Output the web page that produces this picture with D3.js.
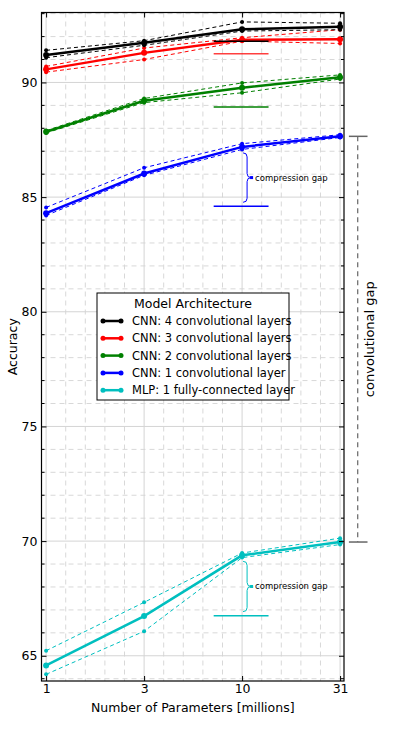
<!DOCTYPE html>
<html>
<head>
<meta charset="utf-8">
<script src="https://cdn.jsdelivr.net/npm/d3@7"></script>
<style>
  body { margin: 0; background: #fff; }
  svg { font-family: "DejaVu Sans", sans-serif; }
</style>
</head>
<body>
<div id="root"></div>
<script>
// data
const paramLabels = ["1", "3", "10", "31"];

const cnn4Mean  = [91.20, 91.73, 92.32, 92.43];
const cnn4Upper = [91.40, 91.82, 92.64, 92.58];
const cnn4Lower = [91.08, 91.62, 92.24, 92.30];

const cnn3Mean  = [90.57, 91.29, 91.86, 91.88];
const cnn3Upper = [90.70, 91.50, 91.95, 92.30];
const cnn3Lower = [90.45, 91.00, 91.80, 91.70];

const cnn2Mean  = [87.85, 89.20, 89.77, 90.23];
const cnn2Upper = [87.90, 89.30, 89.98, 90.33];
const cnn2Lower = [87.80, 89.12, 89.55, 90.15];

const cnn1Mean  = [84.30, 86.03, 87.19, 87.65];
const cnn1Upper = [84.55, 86.28, 87.33, 87.72];
const cnn1Lower = [84.20, 85.95, 87.08, 87.60];

const mlpMean  = [64.58, 66.73, 69.38, 69.96];
const mlpUpper = [65.22, 67.33, 69.48, 70.13];
const mlpLower = [64.19, 66.07, 69.28, 69.85];

const seriesNames = [
  "CNN: 4 convolutional layers",
  "CNN: 3 convolutional layers",
  "CNN: 2 convolutional layers",
  "CNN: 1 convolutional layer",
  "MLP: 1 fully-connected layer"
];
const seriesColors = ["#000000", "#ff0000", "#008000", "#0000ff", "#00bfbf"];
// compressed model accuracy at 10M params
const compressedAcc = [91.80, 91.25, 88.93, 84.60, 66.75];
const yTicks = [65, 70, 75, 80, 85, 90];

let series = [
  { mean: cnn4Mean, upper: cnn4Upper, lower: cnn4Lower },
  { mean: cnn3Mean, upper: cnn3Upper, lower: cnn3Lower },
  { mean: cnn2Mean, upper: cnn2Upper, lower: cnn2Lower },
  { mean: cnn1Mean, upper: cnn1Upper, lower: cnn1Lower },
  { mean: mlpMean, upper: mlpUpper, lower: mlpLower }
].map((s, i) => Object.assign(s, { name: seriesNames[i], color: seriesColors[i], comp: compressedAcc[i] }));

let width = 394, height = 732,
    margin = { top: 12.5, right: 50, bottom: 51, left: 41.5 };

let svg = d3.select('#root').append('svg')
    .attr('width', width)
    .attr('height', height);

let x = d3.scaleLinear().domain([-0.047, 3.04]).range([margin.left, width - margin.right]);
let y = d3.scaleLinear().domain([63.9, 93.05]).range([height - margin.bottom, margin.top]);

let plot = svg.append('g');

// grid: minor dashed, major solid
let xMinor = d3.range(0, 3.001, 0.2).filter(v => Math.abs(v - Math.round(v)) > 0.01);
plot.selectAll('.xminor').data(xMinor).enter().append('line')
    .attr('x1', d => x(d)).attr('x2', d => x(d))
    .attr('y1', y.range()[1]).attr('y2', y.range()[0])
    .attr('stroke', '#d8d8d8').attr('stroke-dasharray', '5,4');
let yMinor = d3.range(64, 94).filter(v => v % 5 !== 0);
plot.selectAll('.yminor').data(yMinor).enter().append('line')
    .attr('x1', x.range()[0]).attr('x2', x.range()[1])
    .attr('y1', d => y(d)).attr('y2', d => y(d))
    .attr('stroke', '#d8d8d8').attr('stroke-dasharray', '5,4');
plot.selectAll('.xmajor').data(d3.range(4)).enter().append('line')
    .attr('x1', d => x(d)).attr('x2', d => x(d))
    .attr('y1', y.range()[1]).attr('y2', y.range()[0])
    .attr('stroke', '#d4d4d4');
plot.selectAll('.ymajor').data(yTicks).enter().append('line')
    .attr('x1', x.range()[0]).attr('x2', x.range()[1])
    .attr('y1', d => y(d)).attr('y2', d => y(d))
    .attr('stroke', '#d4d4d4');

// axes with inward ticks
let yAxisL = d3.axisLeft(y).tickValues(yTicks).tickSize(-5).tickPadding(4);
let yAxisR = d3.axisRight(y).tickValues(yTicks).tickSize(-5).tickFormat('');
let xAxisB = d3.axisBottom(x).tickValues(d3.range(4)).tickFormat(i => paramLabels[i]).tickSize(-5).tickPadding(3);
let xAxisT = d3.axisTop(x).tickValues(d3.range(4)).tickFormat('').tickSize(-5);

function styleAxis(g) {
  g.select('.domain').remove();
  g.selectAll('text').attr('font-size', 12.5).attr('fill', '#000').attr('font-family', '"DejaVu Sans", sans-serif');
  g.selectAll('line').attr('stroke', '#000');
}
svg.append('g').attr('transform', `translate(${x.range()[0]},0)`).call(yAxisL).call(styleAxis);
svg.append('g').attr('transform', `translate(${x.range()[1]},0)`).call(yAxisR).call(styleAxis);
svg.append('g').attr('transform', `translate(0,${y.range()[0]})`).call(xAxisB).call(styleAxis);
svg.append('g').attr('transform', `translate(0,${y.range()[1]})`).call(xAxisT).call(styleAxis);

// minor y ticks
[x.range()[0], x.range()[1]].forEach((px, k) => {
  svg.append('g').selectAll('line').data(yMinor).enter().append('line')
      .attr('x1', px).attr('x2', k === 0 ? px + 3 : px - 3)
      .attr('y1', d => y(d)).attr('y2', d => y(d))
      .attr('stroke', '#000');
});

// series lines
let line = d3.line().x((d, i) => x(i)).y(d => y(d));

series.slice().reverse().forEach(s => {
  let g = plot.append('g');
  [s.upper, s.lower].forEach(band => {
    g.append('path').attr('d', line(band))
        .attr('fill', 'none').attr('stroke', s.color)
        .attr('stroke-width', 1).attr('stroke-dasharray', '4,3');
    g.selectAll(null).data(band).enter().append('circle')
        .attr('cx', (d, i) => x(i)).attr('cy', d => y(d)).attr('r', 2)
        .attr('fill', s.color);
  });
  g.append('path').attr('d', line(s.mean))
      .attr('fill', 'none').attr('stroke', s.color).attr('stroke-width', 2.5);
  g.selectAll(null).data(s.mean).enter().append('circle')
      .attr('cx', (d, i) => x(i)).attr('cy', d => y(d)).attr('r', 3)
      .attr('fill', s.color);
  // compressed model level
  g.append('line')
      .attr('x1', x(2 - 0.29)).attr('x2', x(2 + 0.27))
      .attr('y1', y(s.comp)).attr('y2', y(s.comp))
      .attr('stroke', s.color).attr('stroke-width', 1.5).attr('opacity', s.color === '#ff0000' ? 0.75 : 1);
});

// compression gap braces for CNN 1 layer and MLP
function brace(y0, y1, x0, color) {
  let w = 4, r = 4, ym = (y0 + y1) / 2;
  let p = `M${x0},${y0} Q${x0 + w},${y0} ${x0 + w},${y0 + r} L${x0 + w},${ym - r} Q${x0 + w},${ym} ${x0 + 2 * w},${ym} ` +
          `Q${x0 + w},${ym} ${x0 + w},${ym + r} L${x0 + w},${y1 - r} Q${x0 + w},${y1} ${x0},${y1}`;
  plot.append('path').attr('d', p).attr('fill', 'none').attr('stroke', color).attr('stroke-width', 1);
  plot.append('rect').attr('x', x0 + 2 * w - 1).attr('y', ym - 1.5).attr('width', 3).attr('height', 3).attr('fill', color);
  plot.append('text').attr('x', x0 + 2 * w + 4).attr('y', ym + 3)
      .attr('font-size', 8.5).attr('fill', '#000').text('compression gap');
}
[3, 4].forEach(k => {
  let s = series[k];
  brace(y(s.mean[2]) + 6, y(s.comp) - 4, x(2) + 1, s.color);
});

// convolutional gap marker
let gx = x(3.18), gTop = y(cnn1Mean[3]), gBot = y(mlpMean[3]);
svg.append('line').attr('x1', gx).attr('x2', gx).attr('y1', gTop).attr('y2', gBot)
    .attr('stroke', '#666').attr('stroke-width', 1.2).attr('stroke-dasharray', '5,4');
[gTop, gBot].forEach(py => {
  svg.append('line').attr('x1', x(3.09)).attr('x2', x(3.28)).attr('y1', py).attr('y2', py)
      .attr('stroke', '#666').attr('stroke-width', 1.5);
});
svg.append('text')
    .attr('transform', `translate(${gx + 16},${(gTop + gBot) / 2}) rotate(-90)`)
    .attr('text-anchor', 'middle').attr('font-size', 13).text('convolutional gap');

// frame
svg.append('rect')
    .attr('x', x.range()[0]).attr('y', y.range()[1])
    .attr('width', x.range()[1] - x.range()[0]).attr('height', y.range()[0] - y.range()[1])
    .attr('fill', 'none').attr('stroke', '#000').attr('stroke-width', 1.2);

// axis labels
svg.append('text').attr('x', (x.range()[0] + x.range()[1]) / 2).attr('y', 712)
    .attr('text-anchor', 'middle').attr('font-size', 12.5).text('Number of Parameters [millions]');
svg.append('text').attr('transform', `translate(17,${(y.range()[0] + y.range()[1]) / 2}) rotate(-90)`)
    .attr('text-anchor', 'middle').attr('font-size', 12.5).text('Accuracy');

// legend
let legend = svg.append('g').attr('transform', 'translate(97,293)');
legend.append('rect').attr('width', 192).attr('height', 107)
    .attr('fill', '#fff').attr('stroke', '#000').attr('stroke-width', 1);
legend.append('text').attr('x', 96).attr('y', 15).attr('text-anchor', 'middle')
    .attr('font-size', 12.5).text('Model Architecture');
let items = legend.selectAll('.item').data(series).enter().append('g')
    .attr('transform', (d, i) => `translate(0,${28 + i * 17.3})`);
items.append('line').attr('x1', 6).attr('x2', 24).attr('stroke', d => d.color).attr('stroke-width', 2.5);
items.selectAll('circle').data(d => [d, d]).enter().append('circle')
    .attr('cx', (d, i) => i ? 24 : 6).attr('r', 2.5).attr('fill', d => d.color);
items.append('text').attr('x', 35).attr('y', 4).attr('font-size', 11.5).text(d => d.name);
</script>
</body>
</html>
